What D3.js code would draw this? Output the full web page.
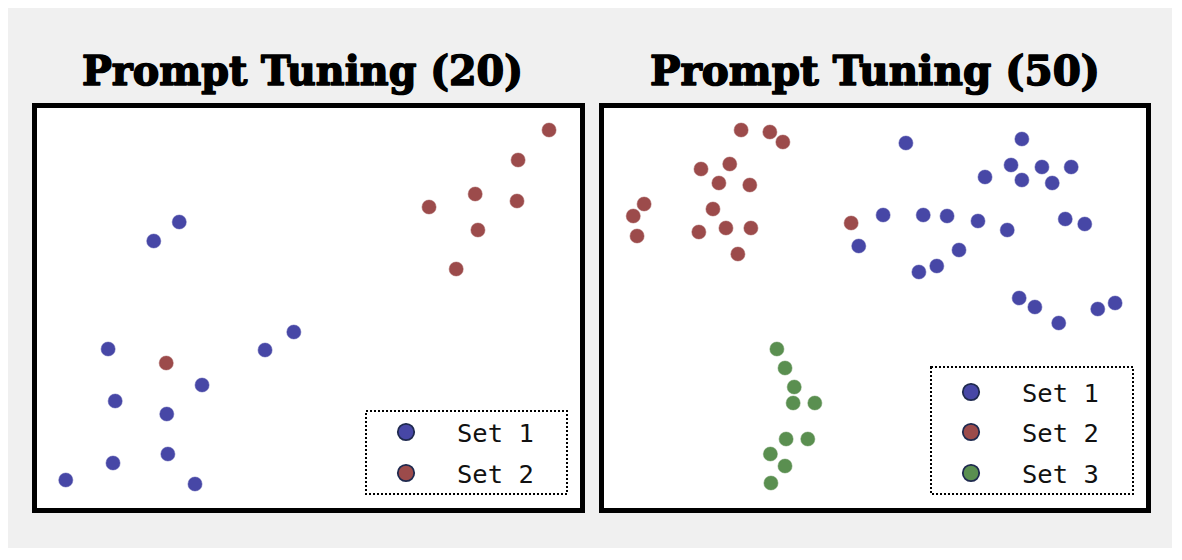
<!DOCTYPE html>
<html>
<head>
<meta charset="utf-8">
<script src="https://cdn.jsdelivr.net/npm/d3@7"></script>
<style>
  html, body { margin: 0; padding: 0; background: #ffffff; }
  svg { display: block; }
</style>
</head>
<body>
<svg id="chart" width="1182" height="560"></svg>
<script>
// ---------- DATA (coordinates in each panel's own 0-100 embedding space) ----------
const seriesNames = ["Set 1", "Set 2", "Set 3"];
const seriesColors = ["#4747a6", "#9c4b4b", "#5a8f50"];
const panelTitles = ["Prompt Tuning (20)", "Prompt Tuning (50)"];

// Panel 1: Prompt Tuning (20)
const p20Set1 = [
  [26.2, 71.5], [21.5, 66.75], [47.3, 44.0], [42.0, 39.5], [13.1, 39.75],
  [30.4, 30.75], [14.4, 26.75], [23.9, 23.5], [24.1, 13.5], [14.0, 11.25],
  [5.3, 7.0], [29.1, 6.0]
];
const p20Set2 = [
  [94.3, 94.5], [88.6, 87.0], [80.7, 78.5], [88.4, 76.75], [72.2, 75.25],
  [81.2, 69.5], [77.2, 59.75], [23.8, 36.25]
];

// Panel 2: Prompt Tuning (50)
const p50Set1 = [
  [55.7, 91.25], [77.1, 92.25], [75.1, 85.75], [80.8, 85.25], [86.2, 85.25],
  [70.3, 82.75], [77.1, 82.0], [82.7, 81.25], [51.5, 73.25], [58.9, 73.25],
  [63.3, 73.0], [69.0, 71.75], [74.4, 69.5], [85.1, 72.25], [88.7, 71.0],
  [47.0, 65.5], [65.5, 64.5], [61.4, 60.5], [58.1, 59.0], [76.6, 52.5],
  [79.5, 50.25], [83.9, 46.25], [91.1, 49.75], [94.3, 51.25]
];
const p50Set2 = [
  [25.3, 94.5], [30.6, 94.0], [33.0, 91.5], [17.9, 84.75], [23.2, 86.0],
  [21.2, 81.25], [26.9, 80.75], [7.4, 76.0], [5.4, 73.0], [6.1, 68.0],
  [20.1, 74.75], [17.5, 69.0], [22.5, 70.0], [27.1, 70.0], [24.7, 63.5],
  [45.6, 71.25]
];
const p50Set3 = [
  [31.9, 39.75], [33.4, 35.0], [35.1, 30.25], [34.9, 26.25], [38.9, 26.25],
  [33.6, 17.25], [37.6, 17.25], [30.7, 13.5], [33.4, 10.5], [30.8, 6.25]
];

// ---------- LAYOUT ----------
const svg = d3.select("#chart");

svg.append("rect")
  .attr("x", 8).attr("y", 8).attr("width", 1164).attr("height", 540)
  .attr("fill", "#f0f0f0");

const panels = [
  {
    title: panelTitles[0], titleX: 82, titleW: 441,
    frame: { x: 32, y: 103, w: 553, h: 410 },
    series: [p20Set1, p20Set2],
    legend: { x: 366, y: 411, w: 201, h: 83, rows: [432, 473], markerX: 406, textX: 457 }
  },
  {
    title: panelTitles[1], titleX: 650, titleW: 450,
    frame: { x: 599, y: 103, w: 552, h: 410 },
    series: [p50Set1, p50Set2, p50Set3],
    legend: { x: 931, y: 367, w: 202, h: 127, rows: [392, 432, 473], markerX: 971, textX: 1022 }
  }
];

const bw = 5;

panels.forEach(p => {
  const f = p.frame;
  const g = svg.append("g");

  // Title
  g.append("text")
    .attr("x", p.titleX).attr("y", 85)
    .attr("textLength", p.titleW)
    .attr("lengthAdjust", "spacingAndGlyphs")
    .style("font-family", "'DejaVu Serif', serif")
    .style("font-weight", "bold")
    .style("font-size", "41px")
    .attr("fill", "#000")
    .attr("stroke", "#000")
    .attr("stroke-width", 1.6)
    .attr("stroke-linejoin", "round")
    .text(p.title);

  // Frame
  g.append("rect")
    .attr("x", f.x + bw / 2).attr("y", f.y + bw / 2)
    .attr("width", f.w - bw).attr("height", f.h - bw)
    .attr("fill", "#ffffff")
    .attr("stroke", "#000").attr("stroke-width", bw);

  const x = d3.scaleLinear().domain([0, 100]).range([f.x + bw, f.x + f.w - bw]);
  const y = d3.scaleLinear().domain([0, 100]).range([f.y + f.h - bw, f.y + bw]);

  // Points
  p.series.forEach((pts, i) => {
    g.append("g").selectAll("circle")
      .data(pts)
      .join("circle")
      .attr("cx", d => x(d[0]))
      .attr("cy", d => y(d[1]))
      .attr("r", 7)
      .attr("fill", seriesColors[i])
      .attr("stroke", seriesColors[i])
      .attr("stroke-opacity", 0.45)
      .attr("stroke-width", 1.2);
  });

  // Legend
  const L = p.legend;
  g.append("rect")
    .attr("x", L.x).attr("y", L.y).attr("width", L.w).attr("height", L.h)
    .attr("fill", "#ffffff")
    .attr("stroke", "#000").attr("stroke-width", 2)
    .attr("stroke-dasharray", "2,2");

  const items = g.append("g").selectAll("g")
    .data(p.series.map((s, i) => i))
    .join("g");
  items.append("circle")
    .attr("cx", L.markerX)
    .attr("cy", i => L.rows[i])
    .attr("r", 8.2)
    .attr("fill", i => seriesColors[i])
    .attr("stroke", "#1f2a4f").attr("stroke-width", 1.8);
  items.append("text")
    .attr("x", L.textX)
    .attr("y", i => L.rows[i] + 10)
    .style("font-family", "'DejaVu Sans Mono', monospace")
    .style("font-size", "25.5px")
    .attr("fill", "#111")
    .text(i => seriesNames[i]);
});
</script>
</body>
</html>
